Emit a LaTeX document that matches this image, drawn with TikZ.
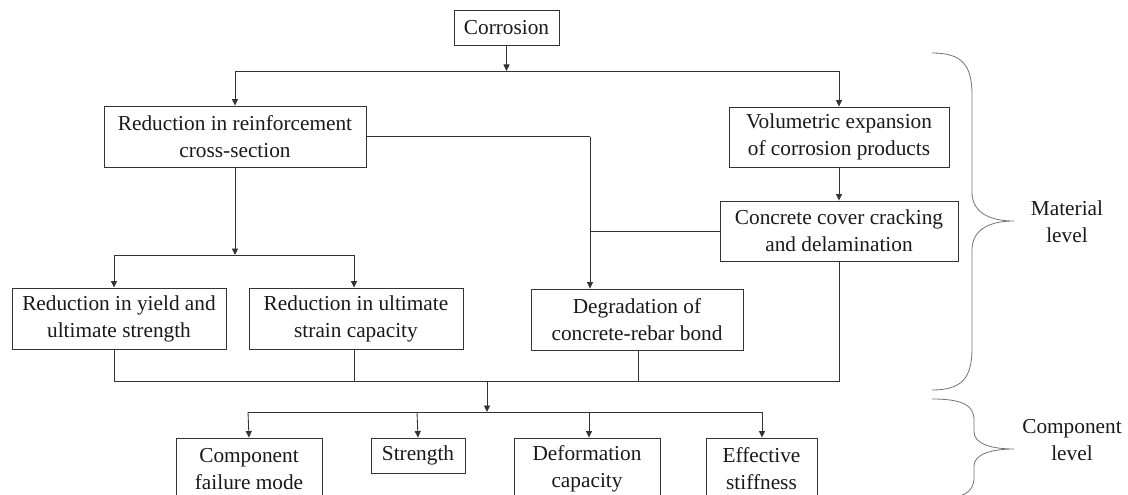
\documentclass[tikz,border=0pt]{standalone}
\usepackage{fontspec}
\setmainfont{Liberation Serif}
\usetikzlibrary{arrows.meta}
\begin{document}
\begin{tikzpicture}[x=1pt,y=-1pt,
  box/.style={draw=black!80,line width=0.9pt,rectangle,inner sep=0pt,align=center,
    font=\fontsize{21.3}{27}\selectfont,text=black!90},
  conn/.style={draw=black!80,line width=0.85pt},
  arr/.style={conn,-{Triangle[length=6.5pt,width=6pt]}},
  brace/.style={draw=black!55,line width=0.8pt},
  lbl/.style={align=center,font=\fontsize{21.3}{27}\selectfont,text=black!90}]
\clip (0,0) rectangle (1128,495);
% nodes
\node[box,minimum width=105pt,minimum height=35pt] (corr) at (506.5,27.5) {Corrosion};
\node[box,minimum width=262pt,minimum height=61pt] (reinf) at (235,136.5) {Reduction in reinforcement\\cross-section};
\node[box,minimum width=220pt,minimum height=60pt] (vol) at (839,137) {Volumetric expansion\\of corrosion products};
\node[box,minimum width=238pt,minimum height=60pt] (crack) at (839,231) {Concrete cover cracking\\and delamination};
\node[box,minimum width=214pt,minimum height=61pt] (yield) at (119,318.5) {Reduction in yield and\\ultimate strength};
\node[box,minimum width=214pt,minimum height=61pt] (ult) at (356,318.5) {Reduction in ultimate\\strain capacity};
\node[box,minimum width=212pt,minimum height=61pt] (degr) at (637,319.5) {Degradation of\\concrete-rebar bond};
\node[box,minimum width=146pt,minimum height=62pt] (fail) at (249,469) {Component\\failure mode};
\node[box,minimum width=94pt,minimum height=35pt] (str) at (418,455.5) {Strength};
\node[box,minimum width=146pt,minimum height=62pt] (def) at (587,469) {Deformation\\capacity};
\node[box,minimum width=111pt,minimum height=62pt] (eff) at (761.5,469) {Effective\\stiffness};
\node[lbl] (mat) at (1067,222) {Material\\level};
\node[lbl] (comp) at (1072,440) {Component\\level};
% junction coordinates
\coordinate (s1) at (506.5,71);
\coordinate (s1l) at (235,71);
\coordinate (s1r) at (839,71);
\coordinate (j1) at (590,136.5);
\coordinate (j2) at (590,231);
\coordinate (s2) at (235,255);
\coordinate (s2l) at (114,255);
\coordinate (s2r) at (354,255);
\coordinate (c1) at (114,381);
\coordinate (c2) at (354,381);
\coordinate (c3) at (638,381);
\coordinate (c4) at (839,381);
\coordinate (cm) at (487,381);
\coordinate (s3) at (487,412);
\coordinate (s3a) at (248,412);
\coordinate (s3b) at (417,412);
\coordinate (s3c) at (589,412);
\coordinate (s3d) at (762,412);
% connectors
\draw[arr] (corr.south) -- (s1);
\draw[conn] (s1l) -- (s1r);
\draw[arr] (s1l) -- (reinf.north);
\draw[arr] (s1r) -- (vol.north);
\draw[arr] (vol.south) -- (crack.north);
\draw[conn] (reinf.east) -- (j1);
\draw[arr] (j1) -- (j1 |- degr.north);
\draw[conn] (crack.west) -- (j2);
\draw[arr] (reinf.south) -- (s2);
\draw[conn] (s2l) -- (s2r);
\draw[arr] (s2l) -- (s2l |- yield.north);
\draw[arr] (s2r) -- (s2r |- ult.north);
\draw[conn] (c1 |- yield.south) -- (c1) -- (c4) -- (crack.south);
\draw[conn] (c2 |- ult.south) -- (c2);
\draw[conn] (c3 |- degr.south) -- (c3);
\draw[arr] (cm) -- (s3);
\draw[conn] (s3a) -- (s3d);
\draw[arr] (s3a) -- (fail.north);
\draw[arr] (s3b) -- (str.north);
\draw[arr] (s3c) -- (s3c |- def.north);
\draw[arr] (s3d) -- (s3d |- eff.north);
% braces
\draw[brace] (932,53) .. controls (962,53) and (972,65) .. (972,95) -- (972,192)
  .. controls (972,214) and (992,221) .. (1014,221)
  .. controls (992,221) and (972,228) .. (972,250) -- (972,348)
  .. controls (972,378) and (962,390) .. (932,390);
\draw[brace] (932,399) .. controls (962,399) and (974,405) .. (974,420) -- (974,432)
  .. controls (974,444) and (992,449) .. (1014,449)
  .. controls (992,449) and (974,454) .. (974,466) -- (974,478)
  .. controls (974,493) and (962,499) .. (932,499);
\end{tikzpicture}
\end{document}
